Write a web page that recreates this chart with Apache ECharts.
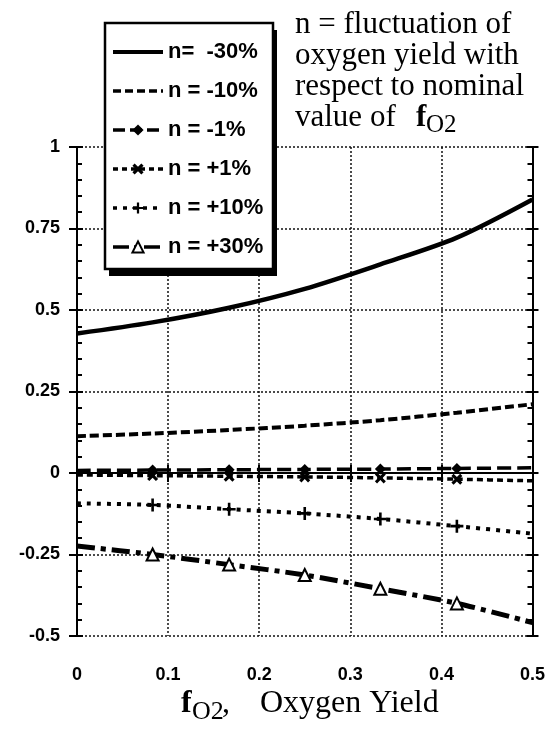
<!DOCTYPE html>
<html><head><meta charset="utf-8">
<script src="https://cdn.jsdelivr.net/npm/echarts@6/dist/echarts.min.js"></script>
<style>html,body{margin:0;padding:0;background:#fff}#c{width:548px;height:729px}</style>
</head><body><div id="c"></div>
<script>
// ---- data ----
const xValues = [0, 0.083, 0.167, 0.25, 0.333, 0.417, 0.5];
const seriesNames = ['n=  -30%', 'n = -10%', 'n = -1%', 'n = +1%', 'n = +10%', 'n = +30%'];
const nMinus30 = [0.428, 0.462, 0.507, 0.565, 0.640, 0.722, 0.839];
const nMinus10 = [0.113, 0.121, 0.132, 0.145, 0.162, 0.185, 0.211];
const nMinus1  = [0.008, 0.009, 0.010, 0.011, 0.012, 0.014, 0.016];
const nPlus1   = [-0.006, -0.008, -0.010, -0.012, -0.015, -0.019, -0.024];
const nPlus10  = [-0.093, -0.098, -0.111, -0.124, -0.141, -0.163, -0.186];
const nPlus30  = [-0.224, -0.250, -0.281, -0.313, -0.355, -0.400, -0.459];
const xTicks = [0, 0.1, 0.2, 0.3, 0.4, 0.5];
const yTicks = [-0.5, -0.25, 0, 0.25, 0.5, 0.75, 1];

const allY = [nMinus30, nMinus10, nMinus1, nPlus1, nPlus10, nPlus30];

const X_PATH = 'path://M2,0 L5,3 L8,0 L10,2 L7,5 L10,8 L8,10 L5,7 L2,10 L0,8 L3,5 L0,2 Z';
const PLUS_PATH = 'path://M4,0 H6 V4 H10 V6 H6 V10 H4 V6 H0 V4 H4 Z';
const styles = [
  {type: 'solid', width: 4.5, symbol: 'none', size: 0},
  {type: [9, 4], width: 4, symbol: 'none', size: 0},
  {type: [14, 6], width: 3.5, symbol: 'diamond', size: 11},
  {type: [6, 4], width: 3.5, symbol: X_PATH, size: 11},
  {type: [4, 6], width: 4, symbol: PLUS_PATH, size: 13},
  {type: [18, 6, 5, 6], width: 5, symbol: 'emptyTriangle', size: 12}
];
const legendDash = ['solid', [8, 4], [12, 5], [5, 4], [4, 6], [16, 5, 5, 5]];

function buildData(ys) {
  return xValues.map((x, i) => {
    const d = {value: [x, ys[i]]};
    if (i === 0 || i === xValues.length - 1) d.symbol = 'none';
    return d;
  });
}

const series = seriesNames.map((name, k) => ({
  name: name,
  type: 'line',
  xAxisIndex: 0,
  yAxisIndex: 0,
  smooth: 0.3,
  data: buildData(allY[k]),
  symbol: styles[k].symbol,
  symbolSize: styles[k].size,
  showSymbol: styles[k].symbol !== 'none',
  lineStyle: {color: '#000', width: styles[k].width, type: styles[k].type, cap: 'butt'},
  itemStyle: {color: '#000'},
  z: 3,
  animation: false
}));

const legendData = seriesNames.map((name, k) => ({
  name: name,
  lineStyle: {width: k === 0 ? 4 : 3.5, type: legendDash[k], color: '#000'},
  itemStyle: styles[k].symbol === 'none' ? {opacity: 0} : {color: '#000'}
}));

const labelFont = {fontFamily: 'Liberation Sans, Arial, sans-serif', fontWeight: 'bold', fontSize: 18, color: '#000'};
const serif = 'Liberation Serif, Times New Roman, serif';

const chart = echarts.init(document.getElementById('c'), null, {renderer: 'canvas'});
chart.setOption({
  backgroundColor: '#fff',
  animation: false,
  grid: {left: 77, right: 13, top: 147, bottom: 93},
  xAxis: [
    {type: 'value', position: 'bottom', min: xTicks[0], max: xTicks[xTicks.length - 1], interval: 0.1,
     axisLine: {show: true, lineStyle: {color: '#000', width: 2}},
     axisTick: {show: true, inside: false, length: 9, lineStyle: {color: '#000', width: 2}},
     axisLabel: Object.assign({margin: 30}, labelFont),
     splitLine: {show: true, lineStyle: {color: '#111', width: 1.5, type: [2, 2]}}},
    {type: 'value', position: 'top', min: xTicks[0], max: xTicks[xTicks.length - 1], interval: 0.1,
     axisLine: {show: true, lineStyle: {color: '#000', width: 2}},
     axisTick: {show: true, inside: false, length: 8, lineStyle: {color: '#000', width: 2}},
     axisLabel: {show: false}, splitLine: {show: false}}
  ],
  yAxis: [
    {type: 'value', position: 'left', min: yTicks[0], max: yTicks[yTicks.length - 1], interval: 0.25,
     axisLine: {show: true, lineStyle: {color: '#000', width: 2}},
     axisTick: {show: true, inside: false, length: 8, lineStyle: {color: '#000', width: 2}},
     axisLabel: Object.assign({margin: 17}, labelFont),
     splitLine: {show: true, lineStyle: {color: '#111', width: 1.5, type: [2, 2]}}},
    {type: 'value', position: 'left', min: yTicks[0], max: yTicks[yTicks.length - 1], interval: 0.25,
     axisLine: {show: false},
     axisTick: {show: true, inside: true, length: 6, lineStyle: {color: '#000', width: 2}},
     minorTick: {show: true, splitNumber: 5, length: 5, lineStyle: {color: '#000', width: 2}},
     axisLabel: {show: false}, splitLine: {show: false}},
    {type: 'value', position: 'right', min: yTicks[0], max: yTicks[yTicks.length - 1], interval: 0.25,
     axisLine: {show: true, lineStyle: {color: '#000', width: 2}},
     axisTick: {show: true, inside: true, length: 6, lineStyle: {color: '#000', width: 2}},
     minorTick: {show: true, splitNumber: 5, length: 5, lineStyle: {color: '#000', width: 2}},
     axisLabel: {show: false}, splitLine: {show: false}},
    {type: 'value', position: 'right', min: yTicks[0], max: yTicks[yTicks.length - 1], interval: 0.25,
     axisLine: {show: false},
     axisTick: {show: true, inside: false, length: 6, lineStyle: {color: '#000', width: 2}},
     axisLabel: {show: false}, splitLine: {show: false}}
  ],
  legend: {
    show: true, orient: 'vertical', left: 111, top: 40, padding: 0,
    itemWidth: 50, itemHeight: 14, itemGap: 15, z: 10,
    data: legendData,
    textStyle: {fontFamily: 'Liberation Sans, Arial, sans-serif', fontWeight: 'bold', fontSize: 22, lineHeight: 24, color: '#000'},
    selectedMode: false
  },
  graphic: [
    {type: 'rect', z: 5, shape: {x: 109, y: 30, width: 168, height: 246}, style: {fill: '#000'}},
    {type: 'rect', z: 6, shape: {x: 105, y: 23, width: 168, height: 246}, style: {fill: '#fff', stroke: '#000', lineWidth: 2.5}},
    {type: 'text', z: 6, x: 295, y: 25, style: {text: 'n = fluctuation of', font: '31px ' + serif, fill: '#000', verticalAlign: 'middle'}},
    {type: 'text', z: 6, x: 295, y: 56, style: {text: 'oxygen yield with', font: '31px ' + serif, fill: '#000', verticalAlign: 'middle'}},
    {type: 'text', z: 6, x: 295, y: 87, style: {text: 'respect to nominal', font: '31px ' + serif, fill: '#000', verticalAlign: 'middle'}},
    {type: 'text', z: 6, x: 295, y: 118, style: {text: 'value of', font: '31px ' + serif, fill: '#000', verticalAlign: 'middle'}},
    {type: 'text', z: 6, x: 416, y: 118, style: {text: 'f', font: 'bold 31px ' + serif, fill: '#000', verticalAlign: 'middle'}},
    {type: 'text', z: 6, x: 426, y: 125, style: {text: 'O2', font: '25px ' + serif, fill: '#000', verticalAlign: 'middle'}},
    {type: 'text', z: 6, x: 181, y: 704, style: {text: 'f', font: 'bold 32px ' + serif, fill: '#000', verticalAlign: 'middle'}},
    {type: 'text', z: 6, x: 192, y: 712, style: {text: 'O2', font: '26px ' + serif, fill: '#000', verticalAlign: 'middle'}},
    {type: 'text', z: 6, x: 222, y: 704, style: {text: ',', font: '32px ' + serif, fill: '#000', verticalAlign: 'middle'}},
    {type: 'text', z: 6, x: 260, y: 704, style: {text: 'Oxygen Yield', font: '32px ' + serif, fill: '#000', verticalAlign: 'middle'}}
  ],
  series: series
});
</script>
</body></html>
